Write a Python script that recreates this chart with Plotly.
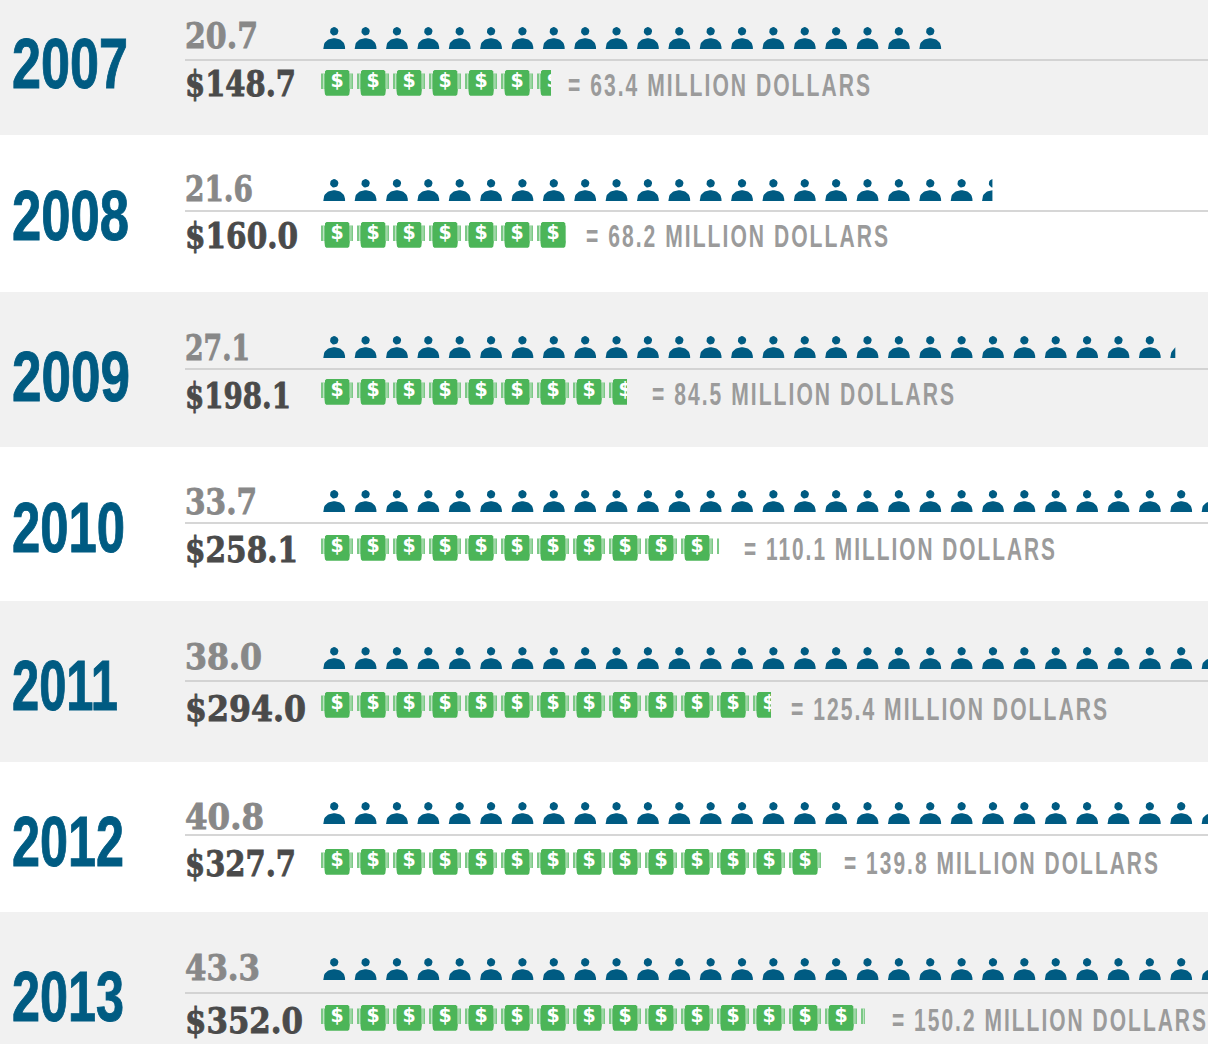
import json
import numpy as np
import plotly.graph_objects as go

# ---- data
years = ["2007", "2008", "2009", "2010", "2011", "2012", "2013"]
people_labels = ["20.7", "21.6", "27.1", "33.7", "38.0", "40.8", "43.3"]
people_icons = [20.0, 21.33, 27.16, 33.7, 38.0, 40.8, 43.3]
money_labels = ["$148.7", "$160.0", "$198.1", "$258.1", "$294.0", "$327.7", "$352.0"]
adjusted_millions = [63.4, 68.2, 84.5, 110.1, 125.4, 139.8, 150.2]
bill_icons = [6.39, 6.81, 8.5, 11.06, 12.5, 13.9, 15.11]

# ---- layout (pixel canvas)
W, H = 1208, 1044
band_edges = [0, 135, 292, 447, 601, 762, 912, 1044]
band_colors = ["#f1f1f1", "#ffffff", "#f1f1f1", "#ffffff", "#f1f1f1", "#ffffff", "#f1f1f1"]
rule_y = [60, 211, 369, 523, 681, 835, 993]
year_y = [70, 222, 383, 534, 692, 848, 1003]
people_text_y = [38.5, 191.5, 350.5, 504.5, 659.5, 819.5, 970.5]
money_text_y = [87, 239, 399, 553, 712, 867, 1024]
people_base_y = [49, 201, 358, 512, 669, 824, 980]
bill_top_y = [70, 222, 379, 535, 692, 849, 1005]
label_x = [568, 586, 652, 744, 791, 844, 892]
label_y = [88.5, 239.5, 397.5, 552.5, 712.5, 866.5, 1023.5]
year_w = [116, 117, 118, 113, 106, 112, 112]
people_w = [73, 68, 65, 72, 77, 79, 75]
money_w = [111, 113, 106, 113, 121, 111, 118]
label_w = [304, 304, 304, 313, 318, 316, 316]

BLUE, GREEN = "#005b82", "#4cb558"
PERSON_X0, PERSON_PITCH = 323.3, 31.37
BILL_X0, BILL_PITCH = 321.0, 36.0
SLAB_FONT = "DejaVu Serif"
COND_FONT = "Liberation Sans"

t = np.linspace(0, np.pi, 24)
BODY = np.c_[10.9 - 10.9 * np.cos(t), -10.8 * np.sin(t) ** 0.8]
a = np.linspace(0, 2 * np.pi, 20)
HEAD = np.c_[10.9 + 4.2 * np.cos(a), -17.7 + 4.2 * np.sin(a)]
BILL = np.array([(4, 1.2), (5.5, 0), (26.8, 0), (28.3, 1.2), (28.3, 18.5), (28.9, 19.5), (28.3, 24.5),
                 (27, 25.7), (5.3, 25.7), (4, 24.5), (3.4, 19.5), (4, 18.5)], float)
STRIPS = [np.array([(x0, 3.5), (x1, 3.5), (x1, 19), (x0, 19)], float) for x0, x1 in [(0, 4), (28.3, 32)]]
INNER = [np.array([(x0, 3.5), (x1, 3.5), (x1, 19), (x0, 19)], float) for x0, x1 in [(2.0, 2.7), (29.6, 30.3)]]


def paths(polys, count, x0, pitch, y0, clip):
    xs, ys = [], []
    for i in range(int(np.ceil(count))):
        ox = x0 + i * pitch
        if ox >= clip:
            break
        for poly in polys:
            xs += list(np.minimum(poly[:, 0] + ox, clip)) + [None]
            ys += list(poly[:, 1] + y0) + [None]
    return xs, ys


def fill_trace(xs, ys, color):
    return go.Scatter(x=xs, y=ys, mode="lines", fill="toself", fillcolor=color,
                      line=dict(width=0, color=color), hoverinfo="skip", showlegend=False)


def text_trace(x, y, text, family, size, color):
    return go.Scatter(x=x, y=y, text=text, mode="text", textposition="middle right",
                      textfont=dict(family=family, size=size, color=color, weight="bold"),
                      hoverinfo="skip", showlegend=False)


fig = go.Figure()
shapes = [dict(type="rect", xref="x", yref="y", x0=0, x1=W, y0=band_edges[i], y1=band_edges[i + 1],
               fillcolor=band_colors[i], line_width=0, layer="below") for i in range(7)]
shapes += [dict(type="line", xref="x", yref="y", x0=185, x1=W, y0=y, y1=y,
                line=dict(color="#c9c9c9", width=1.5), layer="below") for y in rule_y]

for i in range(7):
    clip = PERSON_X0 + people_icons[i] * PERSON_PITCH
    xs, ys = paths([BODY, HEAD], people_icons[i], PERSON_X0, PERSON_PITCH, people_base_y[i], clip)
    fig.add_trace(fill_trace(xs, ys, BLUE))
    units = bill_icons[i]
    clip = BILL_X0 + units * BILL_PITCH
    top = bill_top_y[i]
    xs, ys = paths(STRIPS, units, BILL_X0, BILL_PITCH, top, clip)
    fig.add_trace(fill_trace(xs, ys, "#7cc886"))
    xs, ys = paths(INNER, units, BILL_X0, BILL_PITCH, top, clip)
    fig.add_trace(fill_trace(xs, ys, "#d8f0da"))
    xs, ys = paths([BILL], units, BILL_X0, BILL_PITCH, top, clip)
    fig.add_trace(fill_trace(xs, ys, GREEN))
    n = int(np.ceil(units))
    fig.add_trace(go.Scatter(x=[BILL_X0 + k * BILL_PITCH + 16.2 for k in range(n)], y=[top + 12] * n,
                             text=["$"] * n, mode="text", textposition="middle center",
                             textfont=dict(family="DejaVu Sans", size=19, color="white", weight="bold"),
                             hoverinfo="skip", showlegend=False))
    fig.add_trace(fill_trace([clip, clip + 36, clip + 36, clip], [top - 1, top - 1, top + 27, top + 27],
                             band_colors[i]))

label_texts = [f"= {v} MILLION DOLLARS" for v in adjusted_millions]
fig.add_trace(text_trace([12] * 7, year_y, years, COND_FONT, 71, BLUE))
fig.add_trace(text_trace([185] * 7, people_text_y, people_labels, SLAB_FONT, 36, "#888888"))
fig.add_trace(text_trace([185] * 7, money_text_y, money_labels, SLAB_FONT, 36, "#4a4a4a"))
fig.add_trace(text_trace(label_x, label_y, label_texts, COND_FONT, 31, "#9b9b9b"))

fig.update_layout(width=W, height=H, margin=dict(l=0, r=0, t=0, b=0), showlegend=False,
                  paper_bgcolor="white", plot_bgcolor="white", shapes=shapes,
                  xaxis=dict(range=[0, W], visible=False, fixedrange=True),
                  yaxis=dict(range=[H, 0], visible=False, fixedrange=True),
                  hovermode=False)

# the reference uses condensed faces: fit each text to its measured width
fit = {}
for txts, ws in [(years, year_w), (people_labels, people_w), (money_labels, money_w), (label_texts, label_w)]:
    fit.update(dict(zip(txts, ws)))
heavy = {**{s: 1.0 for s in years}, **{s: 0.9 for s in people_labels + money_labels}}
spaced = {s: 3 for s in label_texts}
post = """
document.body.style.margin='0';document.body.style.overflow='hidden';
var fit = %s, heavy = %s, spaced = %s;
function applyFit(){
  document.querySelectorAll('.textpoint text').forEach(function(el){
    var t = el.textContent;
    if (t in spaced) el.style.letterSpacing = spaced[t] + 'px';
    if (t in heavy){
      el.style.stroke = el.style.fill;
      el.style.strokeWidth = heavy[t] + 'px';
    }
    if (t in fit){
      el.setAttribute('textLength', fit[t]);
      el.setAttribute('lengthAdjust', 'spacingAndGlyphs');
    }
  });
}
applyFit();
var gd = document.getElementById('{plot_id}');
if (gd && gd.on) gd.on('plotly_afterplot', applyFit);
setTimeout(applyFit, 50);
""" % (json.dumps(fit), json.dumps(heavy), json.dumps(spaced))
fig.write_html("out.html", config=dict(displayModeBar=False), post_script=post)
